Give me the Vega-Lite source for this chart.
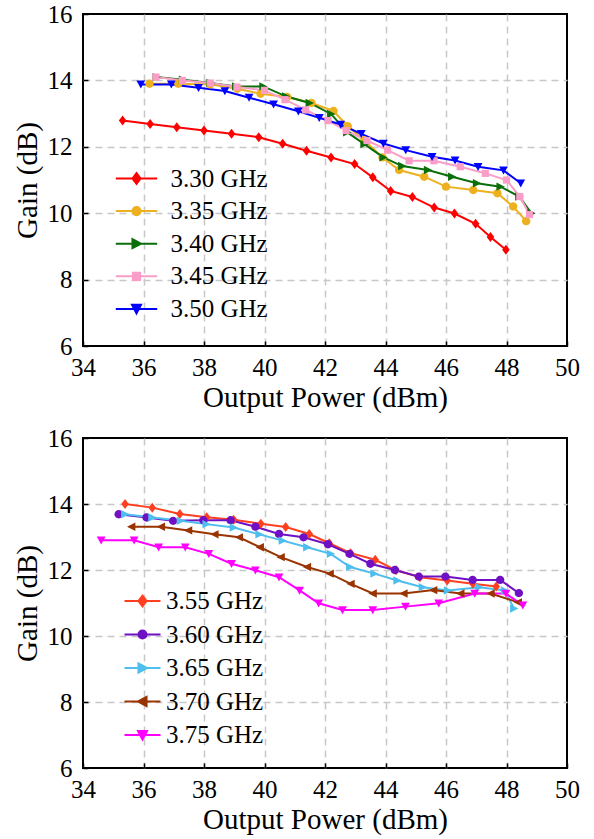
{
  "$schema": "https://vega.github.io/schema/vega-lite/v6.json",
  "background": "white",
  "padding": {"left": 12, "top": 1, "right": 5, "bottom": 2},
  "spacing": 12,
  "datasets": {
    "top": [
      {"P": 35.31, "G": 12.79, "f": "3.30 GHz"}, {"P": 36.22, "G": 12.69, "f": "3.30 GHz"}, {"P": 37.1, "G": 12.59, "f": "3.30 GHz"}, {"P": 38.0, "G": 12.49, "f": "3.30 GHz"}, {"P": 38.91, "G": 12.39, "f": "3.30 GHz"}, {"P": 39.81, "G": 12.29, "f": "3.30 GHz"}, {"P": 40.6, "G": 12.09, "f": "3.30 GHz"}, {"P": 41.39, "G": 11.88, "f": "3.30 GHz"}, {"P": 42.2, "G": 11.68, "f": "3.30 GHz"}, {"P": 42.98, "G": 11.48, "f": "3.30 GHz"}, {"P": 43.58, "G": 11.08, "f": "3.30 GHz"}, {"P": 44.17, "G": 10.67, "f": "3.30 GHz"}, {"P": 44.89, "G": 10.49, "f": "3.30 GHz"}, {"P": 45.61, "G": 10.17, "f": "3.30 GHz"}, {"P": 46.28, "G": 9.99, "f": "3.30 GHz"}, {"P": 46.98, "G": 9.68, "f": "3.30 GHz"}, {"P": 47.47, "G": 9.28, "f": "3.30 GHz"}, {"P": 47.98, "G": 8.9, "f": "3.30 GHz"},
      {"P": 36.2, "G": 13.9, "f": "3.35 GHz"}, {"P": 37.15, "G": 13.9, "f": "3.35 GHz"}, {"P": 38.2, "G": 13.88, "f": "3.35 GHz"}, {"P": 39.1, "G": 13.75, "f": "3.35 GHz"}, {"P": 39.87, "G": 13.6, "f": "3.35 GHz"}, {"P": 40.75, "G": 13.5, "f": "3.35 GHz"}, {"P": 41.55, "G": 13.32, "f": "3.35 GHz"}, {"P": 42.28, "G": 13.08, "f": "3.35 GHz"}, {"P": 42.75, "G": 12.62, "f": "3.35 GHz"}, {"P": 43.3, "G": 12.2, "f": "3.35 GHz"}, {"P": 43.9, "G": 11.68, "f": "3.35 GHz"}, {"P": 44.45, "G": 11.3, "f": "3.35 GHz"}, {"P": 45.28, "G": 11.1, "f": "3.35 GHz"}, {"P": 46.0, "G": 10.8, "f": "3.35 GHz"}, {"P": 46.9, "G": 10.7, "f": "3.35 GHz"}, {"P": 47.7, "G": 10.6, "f": "3.35 GHz"}, {"P": 48.22, "G": 10.2, "f": "3.35 GHz"}, {"P": 48.65, "G": 9.76, "f": "3.35 GHz"},
      {"P": 36.43, "G": 14.1, "f": "3.40 GHz"}, {"P": 37.3, "G": 14.02, "f": "3.40 GHz"}, {"P": 38.21, "G": 13.92, "f": "3.40 GHz"}, {"P": 39.06, "G": 13.82, "f": "3.40 GHz"}, {"P": 39.96, "G": 13.82, "f": "3.40 GHz"}, {"P": 40.71, "G": 13.52, "f": "3.40 GHz"}, {"P": 41.49, "G": 13.32, "f": "3.40 GHz"}, {"P": 42.2, "G": 12.99, "f": "3.40 GHz"}, {"P": 42.73, "G": 12.44, "f": "3.40 GHz"}, {"P": 43.3, "G": 12.08, "f": "3.40 GHz"}, {"P": 43.93, "G": 11.68, "f": "3.40 GHz"}, {"P": 44.55, "G": 11.42, "f": "3.40 GHz"}, {"P": 45.4, "G": 11.3, "f": "3.40 GHz"}, {"P": 46.2, "G": 11.1, "f": "3.40 GHz"}, {"P": 47.02, "G": 10.9, "f": "3.40 GHz"}, {"P": 47.8, "G": 10.8, "f": "3.40 GHz"}, {"P": 48.42, "G": 10.5, "f": "3.40 GHz"}, {"P": 48.82, "G": 10.0, "f": "3.40 GHz"},
      {"P": 36.41, "G": 14.1, "f": "3.45 GHz"}, {"P": 37.29, "G": 14.0, "f": "3.45 GHz"}, {"P": 38.21, "G": 13.92, "f": "3.45 GHz"}, {"P": 39.09, "G": 13.8, "f": "3.45 GHz"}, {"P": 40.0, "G": 13.7, "f": "3.45 GHz"}, {"P": 40.68, "G": 13.42, "f": "3.45 GHz"}, {"P": 41.36, "G": 13.11, "f": "3.45 GHz"}, {"P": 42.1, "G": 12.79, "f": "3.45 GHz"}, {"P": 42.7, "G": 12.49, "f": "3.45 GHz"}, {"P": 43.39, "G": 12.19, "f": "3.45 GHz"}, {"P": 44.07, "G": 11.9, "f": "3.45 GHz"}, {"P": 44.78, "G": 11.58, "f": "3.45 GHz"}, {"P": 45.6, "G": 11.58, "f": "3.45 GHz"}, {"P": 46.47, "G": 11.4, "f": "3.45 GHz"}, {"P": 47.3, "G": 11.2, "f": "3.45 GHz"}, {"P": 48.0, "G": 11.0, "f": "3.45 GHz"}, {"P": 48.44, "G": 10.5, "f": "3.45 GHz"}, {"P": 48.76, "G": 9.96, "f": "3.45 GHz"},
      {"P": 35.91, "G": 13.88, "f": "3.50 GHz"}, {"P": 36.92, "G": 13.88, "f": "3.50 GHz"}, {"P": 37.82, "G": 13.78, "f": "3.50 GHz"}, {"P": 38.69, "G": 13.68, "f": "3.50 GHz"}, {"P": 39.49, "G": 13.48, "f": "3.50 GHz"}, {"P": 40.3, "G": 13.28, "f": "3.50 GHz"}, {"P": 41.12, "G": 13.07, "f": "3.50 GHz"}, {"P": 41.81, "G": 12.87, "f": "3.50 GHz"}, {"P": 42.52, "G": 12.67, "f": "3.50 GHz"}, {"P": 43.2, "G": 12.39, "f": "3.50 GHz"}, {"P": 43.93, "G": 12.1, "f": "3.50 GHz"}, {"P": 44.67, "G": 11.9, "f": "3.50 GHz"}, {"P": 45.54, "G": 11.7, "f": "3.50 GHz"}, {"P": 46.3, "G": 11.59, "f": "3.50 GHz"}, {"P": 47.06, "G": 11.4, "f": "3.50 GHz"}, {"P": 47.9, "G": 11.29, "f": "3.50 GHz"}, {"P": 48.47, "G": 10.9, "f": "3.50 GHz"}
    ],
    "bottom": [
      {"P": 35.39, "G": 14.0, "f": "3.55 GHz"}, {"P": 36.29, "G": 13.89, "f": "3.55 GHz"}, {"P": 37.2, "G": 13.7, "f": "3.55 GHz"}, {"P": 38.09, "G": 13.6, "f": "3.55 GHz"}, {"P": 38.98, "G": 13.52, "f": "3.55 GHz"}, {"P": 39.88, "G": 13.4, "f": "3.55 GHz"}, {"P": 40.7, "G": 13.3, "f": "3.55 GHz"}, {"P": 41.48, "G": 13.09, "f": "3.55 GHz"}, {"P": 42.14, "G": 12.81, "f": "3.55 GHz"}, {"P": 42.85, "G": 12.51, "f": "3.55 GHz"}, {"P": 43.66, "G": 12.31, "f": "3.55 GHz"}, {"P": 44.35, "G": 11.99, "f": "3.55 GHz"}, {"P": 45.14, "G": 11.78, "f": "3.55 GHz"}, {"P": 46.04, "G": 11.68, "f": "3.55 GHz"}, {"P": 46.89, "G": 11.58, "f": "3.55 GHz"}, {"P": 47.66, "G": 11.5, "f": "3.55 GHz"},
      {"P": 35.18, "G": 13.69, "f": "3.60 GHz"}, {"P": 36.1, "G": 13.59, "f": "3.60 GHz"}, {"P": 36.98, "G": 13.49, "f": "3.60 GHz"}, {"P": 37.98, "G": 13.51, "f": "3.60 GHz"}, {"P": 38.88, "G": 13.51, "f": "3.60 GHz"}, {"P": 39.7, "G": 13.31, "f": "3.60 GHz"}, {"P": 40.48, "G": 13.09, "f": "3.60 GHz"}, {"P": 41.29, "G": 12.99, "f": "3.60 GHz"}, {"P": 42.1, "G": 12.78, "f": "3.60 GHz"}, {"P": 42.81, "G": 12.49, "f": "3.60 GHz"}, {"P": 43.5, "G": 12.19, "f": "3.60 GHz"}, {"P": 44.31, "G": 12.0, "f": "3.60 GHz"}, {"P": 45.1, "G": 11.8, "f": "3.60 GHz"}, {"P": 45.98, "G": 11.8, "f": "3.60 GHz"}, {"P": 46.88, "G": 11.7, "f": "3.60 GHz"}, {"P": 47.79, "G": 11.7, "f": "3.60 GHz"}, {"P": 48.41, "G": 11.3, "f": "3.60 GHz"},
      {"P": 35.39, "G": 13.69, "f": "3.65 GHz"}, {"P": 36.29, "G": 13.59, "f": "3.65 GHz"}, {"P": 37.23, "G": 13.49, "f": "3.65 GHz"}, {"P": 38.08, "G": 13.39, "f": "3.65 GHz"}, {"P": 38.98, "G": 13.29, "f": "3.65 GHz"}, {"P": 39.83, "G": 13.08, "f": "3.65 GHz"}, {"P": 40.6, "G": 12.89, "f": "3.65 GHz"}, {"P": 41.41, "G": 12.69, "f": "3.65 GHz"}, {"P": 42.19, "G": 12.49, "f": "3.65 GHz"}, {"P": 42.83, "G": 12.09, "f": "3.65 GHz"}, {"P": 43.63, "G": 11.89, "f": "3.65 GHz"}, {"P": 44.39, "G": 11.68, "f": "3.65 GHz"}, {"P": 45.23, "G": 11.48, "f": "3.65 GHz"}, {"P": 46.06, "G": 11.38, "f": "3.65 GHz"}, {"P": 47.1, "G": 11.48, "f": "3.65 GHz"}, {"P": 47.94, "G": 11.38, "f": "3.65 GHz"}, {"P": 48.25, "G": 10.83, "f": "3.65 GHz"},
      {"P": 35.6, "G": 13.31, "f": "3.70 GHz"}, {"P": 36.58, "G": 13.31, "f": "3.70 GHz"}, {"P": 37.48, "G": 13.2, "f": "3.70 GHz"}, {"P": 38.35, "G": 13.08, "f": "3.70 GHz"}, {"P": 39.16, "G": 12.99, "f": "3.70 GHz"}, {"P": 39.85, "G": 12.69, "f": "3.70 GHz"}, {"P": 40.54, "G": 12.39, "f": "3.70 GHz"}, {"P": 41.41, "G": 12.09, "f": "3.70 GHz"}, {"P": 42.16, "G": 11.89, "f": "3.70 GHz"}, {"P": 42.85, "G": 11.58, "f": "3.70 GHz"}, {"P": 43.58, "G": 11.29, "f": "3.70 GHz"}, {"P": 44.6, "G": 11.29, "f": "3.70 GHz"}, {"P": 45.58, "G": 11.39, "f": "3.70 GHz"}, {"P": 46.48, "G": 11.29, "f": "3.70 GHz"}, {"P": 47.48, "G": 11.29, "f": "3.70 GHz"}, {"P": 48.38, "G": 11.02, "f": "3.70 GHz"},
      {"P": 34.6, "G": 12.9, "f": "3.75 GHz"}, {"P": 35.69, "G": 12.9, "f": "3.75 GHz"}, {"P": 36.5, "G": 12.69, "f": "3.75 GHz"}, {"P": 37.38, "G": 12.69, "f": "3.75 GHz"}, {"P": 38.16, "G": 12.49, "f": "3.75 GHz"}, {"P": 38.91, "G": 12.19, "f": "3.75 GHz"}, {"P": 39.7, "G": 11.99, "f": "3.75 GHz"}, {"P": 40.48, "G": 11.78, "f": "3.75 GHz"}, {"P": 41.16, "G": 11.38, "f": "3.75 GHz"}, {"P": 41.79, "G": 10.99, "f": "3.75 GHz"}, {"P": 42.58, "G": 10.79, "f": "3.75 GHz"}, {"P": 43.58, "G": 10.79, "f": "3.75 GHz"}, {"P": 44.66, "G": 10.89, "f": "3.75 GHz"}, {"P": 45.76, "G": 10.99, "f": "3.75 GHz"}, {"P": 46.95, "G": 11.29, "f": "3.75 GHz"}, {"P": 47.98, "G": 11.29, "f": "3.75 GHz"}, {"P": 48.54, "G": 10.93, "f": "3.75 GHz"}
    ]
  },
  "vconcat": [
    {
      "width": 484,
      "height": 332,
      "data": {"name": "top"},
      "encoding": {
        "x": {"field": "P", "type": "quantitative", "scale": {"domain": [34, 50], "nice": false, "zero": false},
              "axis": {"title": "Output Power (dBm)", "values": [34, 36, 38, 40, 42, 44, 46, 48, 50],
                       "gridOpacity": {"condition": {"test": "datum.value == 34 || datum.value == 50", "value": 0}, "value": 1}}},
        "y": {"field": "G", "type": "quantitative", "scale": {"domain": [6, 16], "nice": false, "zero": false},
              "axis": {"title": "Gain (dB)", "values": [6, 8, 10, 12, 14, 16],
                       "gridOpacity": {"condition": {"test": "datum.value == 6 || datum.value == 16", "value": 0}, "value": 1}}}
      },
      "layer": [
        {
          "mark": {"type": "line", "strokeWidth": 2},
          "encoding": {
            "color": {"field": "f", "type": "nominal", "legend": null,
                      "scale": {"domain": ["3.30 GHz", "3.35 GHz", "3.40 GHz", "3.45 GHz", "3.50 GHz"], "range": ["#ff0000", "#edb120", "#0a6e0a", "#fa9ec8", "#0000ff"]}}
          }
        },
        {
          "mark": {"type": "point", "filled": true, "opacity": 1, "size": 64},
          "encoding": {
            "color": {"field": "f", "type": "nominal", "legend": null,
                      "scale": {"domain": ["3.30 GHz", "3.35 GHz", "3.40 GHz", "3.45 GHz", "3.50 GHz"], "range": ["#ff0000", "#edb120", "#0a6e0a", "#fa9ec8", "#0000ff"]}},
            "shape": {"field": "f", "type": "nominal", "legend": null,
                      "scale": {"domain": ["3.30 GHz", "3.35 GHz", "3.40 GHz", "3.45 GHz", "3.50 GHz"],
                                "range": ["M0,-1.25L0.95,0L0,1.25L-0.95,0Z", "M-1.05,0A1.05,1.05,0,1,1,1.05,0A1.05,1.05,0,1,1,-1.05,0Z", "M-1,-1.05L1.1,0L-1,1.05Z", "M-0.9,-0.9H0.9V0.9H-0.9Z", "M-1.1,-0.95H1.1L0,1.05Z"]}}
          }
        },
        {
          "transform": [{"filter": "false"}],
          "mark": {"type": "point", "filled": true, "opacity": 1},
          "encoding": {
            "color": {"field": "f", "type": "nominal",
                      "scale": {"domain": ["3.30 GHz", "3.35 GHz", "3.40 GHz", "3.45 GHz", "3.50 GHz"], "range": ["#ff0000", "#edb120", "#0a6e0a", "#fa9ec8", "#0000ff"]},
                      "legend": {"orient": "none", "legendX": 41, "legendY": 152, "title": null, "symbolSize": 81, "symbolStrokeWidth": 2, "labelOffset": 21.5, "rowPadding": 6.6, "padding": 0, "symbolOpacity": 1, "labelLimit": 0, "symbolFillColor": "black"}},
            "stroke": {"field": "f", "type": "nominal",
                       "scale": {"domain": ["3.30 GHz", "3.35 GHz", "3.40 GHz", "3.45 GHz", "3.50 GHz"], "range": ["#ff0000", "#edb120", "#0a6e0a", "#fa9ec8", "#0000ff"]},
                       "legend": {"orient": "none", "legendX": 41, "legendY": 152, "title": null, "symbolSize": 81, "symbolStrokeWidth": 2, "labelOffset": 21.5, "rowPadding": 6.6, "padding": 0, "symbolOpacity": 1, "labelLimit": 0, "symbolFillColor": "black"}},
            "shape": {"field": "f", "type": "nominal",
                      "scale": {"domain": ["3.30 GHz", "3.35 GHz", "3.40 GHz", "3.45 GHz", "3.50 GHz"],
                                "range": ["M-4.6,0H4.6M0,-1.2L0.9,0L0,1.2L-0.9,0Z", "M-4.6,0H4.6M-0.9,0A0.9,0.9,0,1,1,0.9,0A0.9,0.9,0,1,1,-0.9,0Z", "M-4.6,0H4.6M-0.9,-1L1,0L-0.9,1Z", "M-4.6,0H4.6M-0.8,-0.8H0.8V0.8H-0.8Z", "M-4.6,0H4.6M-1,-0.9H1L0,1Z"]},
                      "legend": {"orient": "none", "legendX": 41, "legendY": 152, "title": null, "symbolSize": 81, "symbolStrokeWidth": 2, "labelOffset": 21.5, "rowPadding": 6.6, "padding": 0, "symbolOpacity": 1, "labelLimit": 0, "symbolFillColor": "black"}}
          }
        }
      ],
      "resolve": {"scale": {"shape": "independent", "color": "independent", "stroke": "independent"}}
    },
    {
      "width": 484,
      "height": 330,
      "data": {"name": "bottom"},
      "encoding": {
        "x": {"field": "P", "type": "quantitative", "scale": {"domain": [34, 50], "nice": false, "zero": false},
              "axis": {"title": "Output Power (dBm)", "values": [34, 36, 38, 40, 42, 44, 46, 48, 50],
                       "gridOpacity": {"condition": {"test": "datum.value == 34 || datum.value == 50", "value": 0}, "value": 1}}},
        "y": {"field": "G", "type": "quantitative", "scale": {"domain": [6, 16], "nice": false, "zero": false},
              "axis": {"title": "Gain (dB)", "values": [6, 8, 10, 12, 14, 16],
                       "gridOpacity": {"condition": {"test": "datum.value == 6 || datum.value == 16", "value": 0}, "value": 1}}}
      },
      "layer": [
        {
          "mark": {"type": "line", "strokeWidth": 2},
          "encoding": {
            "color": {"field": "f", "type": "nominal", "legend": null,
                      "scale": {"domain": ["3.55 GHz", "3.60 GHz", "3.65 GHz", "3.70 GHz", "3.75 GHz"], "range": ["#ff4020", "#6f10c4", "#4dbeee", "#993300", "#ff00ff"]}}
          }
        },
        {
          "mark": {"type": "point", "filled": true, "opacity": 1, "size": 64},
          "encoding": {
            "color": {"field": "f", "type": "nominal", "legend": null,
                      "scale": {"domain": ["3.55 GHz", "3.60 GHz", "3.65 GHz", "3.70 GHz", "3.75 GHz"], "range": ["#ff4020", "#6f10c4", "#4dbeee", "#993300", "#ff00ff"]}},
            "shape": {"field": "f", "type": "nominal", "legend": null,
                      "scale": {"domain": ["3.55 GHz", "3.60 GHz", "3.65 GHz", "3.70 GHz", "3.75 GHz"],
                                "range": ["M0,-1.25L0.95,0L0,1.25L-0.95,0Z", "M-1.05,0A1.05,1.05,0,1,1,1.05,0A1.05,1.05,0,1,1,-1.05,0Z", "M-1,-1.05L1.1,0L-1,1.05Z", "M1,-1.05L-1.1,0L1,1.05Z", "M-1.1,-0.95H1.1L0,1.05Z"]}}
          }
        },
        {
          "transform": [{"filter": "false"}],
          "mark": {"type": "point", "filled": true, "opacity": 1},
          "encoding": {
            "color": {"field": "f", "type": "nominal",
                      "scale": {"domain": ["3.55 GHz", "3.60 GHz", "3.65 GHz", "3.70 GHz", "3.75 GHz"], "range": ["#ff4020", "#6f10c4", "#4dbeee", "#993300", "#ff00ff"]},
                      "legend": {"orient": "none", "legendX": 47, "legendY": 150.5, "title": null, "symbolSize": 81, "symbolStrokeWidth": 2, "labelOffset": 11, "rowPadding": 7.5, "padding": 0, "symbolOpacity": 1, "labelLimit": 0, "symbolFillColor": "black"}},
            "stroke": {"field": "f", "type": "nominal",
                       "scale": {"domain": ["3.55 GHz", "3.60 GHz", "3.65 GHz", "3.70 GHz", "3.75 GHz"], "range": ["#ff4020", "#6f10c4", "#4dbeee", "#993300", "#ff00ff"]},
                       "legend": {"orient": "none", "legendX": 47, "legendY": 150.5, "title": null, "symbolSize": 81, "symbolStrokeWidth": 2, "labelOffset": 11, "rowPadding": 7.5, "padding": 0, "symbolOpacity": 1, "labelLimit": 0, "symbolFillColor": "black"}},
            "shape": {"field": "f", "type": "nominal",
                      "scale": {"domain": ["3.55 GHz", "3.60 GHz", "3.65 GHz", "3.70 GHz", "3.75 GHz"],
                                "range": ["M-4,0H4M0,-1.2L0.9,0L0,1.2L-0.9,0Z", "M-4,0H4M-0.9,0A0.9,0.9,0,1,1,0.9,0A0.9,0.9,0,1,1,-0.9,0Z", "M-4,0H4M-0.9,-1L1,0L-0.9,1Z", "M-4,0H4M0.9,-1L-1,0L0.9,1Z", "M-4,0H4M-1,-0.9H1L0,1Z"]},
                      "legend": {"orient": "none", "legendX": 47, "legendY": 150.5, "title": null, "symbolSize": 81, "symbolStrokeWidth": 2, "labelOffset": 11, "rowPadding": 7.5, "padding": 0, "symbolOpacity": 1, "labelLimit": 0, "symbolFillColor": "black"}}
          }
        }
      ],
      "resolve": {"scale": {"shape": "independent", "color": "independent", "stroke": "independent"}}
    }
  ],
  "resolve": {"scale": {"color": "independent", "shape": "independent", "stroke": "independent"}},
  "config": {
    "font": "Liberation Serif",
    "view": {"stroke": "black", "strokeWidth": 2},
    "axis": {
      "labelFont": "Liberation Serif", "labelFontSize": 25, "labelColor": "black",
      "titleFont": "Liberation Serif", "titleFontSize": 29, "titleFontWeight": "normal", "titleColor": "black",
      "domain": false, "grid": true, "gridColor": "#c8c8c8", "gridDash": [7, 5], "gridWidth": 1.5,
      "ticks": true, "tickColor": "black", "tickSize": -5, "tickWidth": 1.5,
      "labelPadding": 14, "titlePadding": 3, "labelFlush": false, "labelOverlap": false
    },
    "axisY": {"labelPadding": 16, "titlePadding": 5},
    "legend": {"labelFont": "Liberation Serif", "labelFontSize": 25, "labelColor": "black"}
  }
}
